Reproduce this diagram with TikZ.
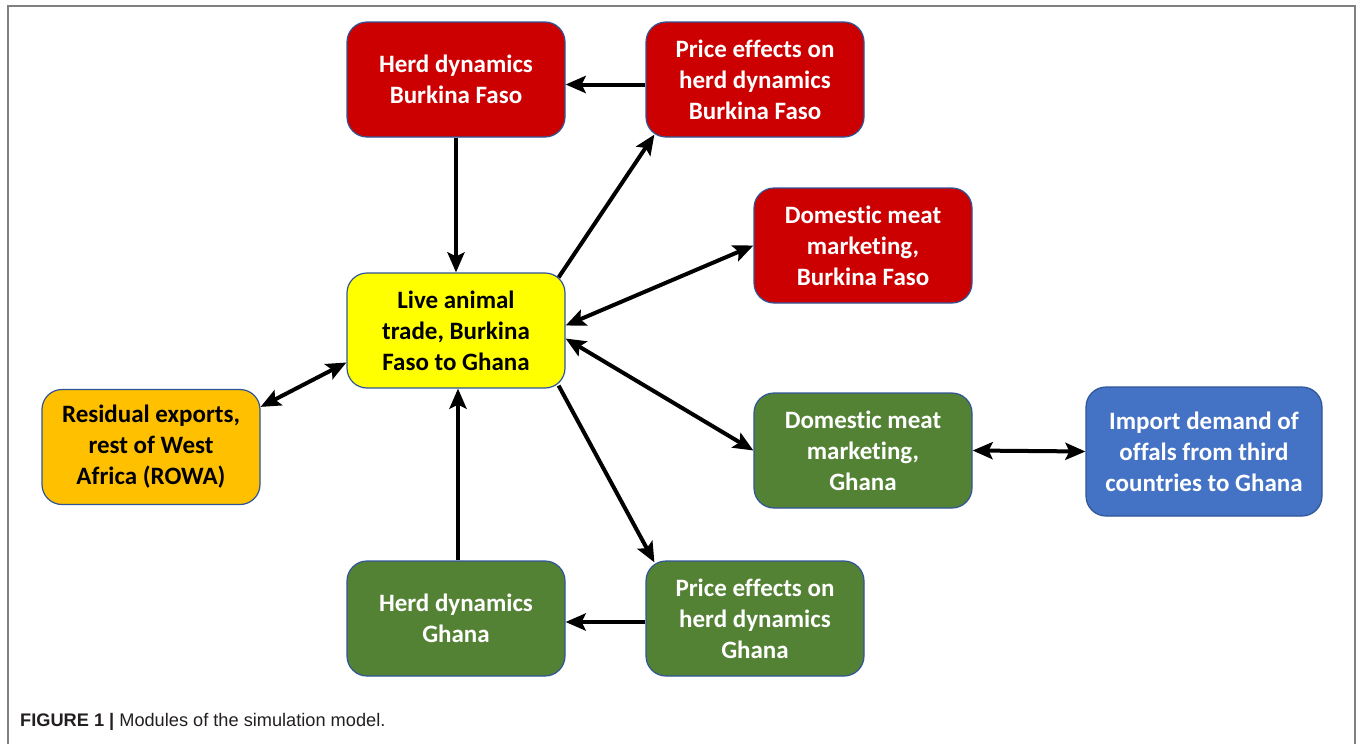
\documentclass[tikz,border=0pt]{standalone}
\usepackage{fontspec}
\setmainfont{Carlito}[Ligatures=NoCommon]
\newfontfamily\capfont{Liberation Sans}
\usetikzlibrary{arrows.meta}
\definecolor{bred}{HTML}{CC0000}
\definecolor{bgreen}{HTML}{548235}
\definecolor{byellow}{HTML}{FFFF00}
\definecolor{borange}{HTML}{FFC000}
\definecolor{bblue}{HTML}{4472C4}
\definecolor{bline}{HTML}{2F5597}
\definecolor{framegray}{HTML}{808080}
\definecolor{captext}{HTML}{231F20}
\tikzset{
  modbox/.style={draw=bline, line width=1.2pt, rounded corners=20pt,
    minimum width=218pt, minimum height=115pt, align=center, inner sep=4pt,
    font=\bfseries\fontsize{25}{31}\selectfont},
  redbox/.style={modbox, fill=bred, text=white},
  greenbox/.style={modbox, fill=bgreen, text=white},
  arr/.style={line width=4pt, -{Stealth[length=20pt,width=17pt,inset=4pt]}},
  darr/.style={line width=4pt, {Stealth[length=20pt,width=17pt,inset=4pt]}-{Stealth[length=20pt,width=17pt,inset=4pt]}},
  frameline/.style={draw=framegray, line width=2pt}
}
\begin{document}
\begin{tikzpicture}[x=1pt,y=-1pt]
\useasboundingbox (0,0) rectangle (1360,744);
\draw[frameline] (8,744) -- (8,6) -- (1355,6) -- (1355,744);

\node[redbox] (hbf) at (456,79.5) {Herd dynamics\\Burkina Faso};
\node[redbox] (pbf) at (755,79.5) {Price effects on\\herd dynamics\\Burkina Faso};
\node[redbox] (dbf) at (863,245.5) {Domestic meat\\marketing,\\Burkina Faso};
\node[modbox, fill=byellow, text=black] (live) at (456,330.5) {Live animal\\trade, Burkina\\Faso to Ghana};
\node[modbox, fill=borange, text=black] (res) at (151,447) {Residual exports,\\rest of West\\Africa (ROWA)};
\node[greenbox] (dgh) at (863,450.5) {Domestic meat\\marketing,\\Ghana};
\node[modbox, fill=bblue, text=white, minimum width=236pt, minimum height=129pt] (imp) at (1204,451.5) {Import demand of\\offals from third\\countries to Ghana};
\node[greenbox] (hgh) at (456,618.5) {Herd dynamics\\Ghana};
\node[greenbox] (pgh) at (755,618.5) {Price effects on\\herd dynamics\\Ghana};

\draw[arr] ([yshift=-5pt]pbf.west) -- ([yshift=-5pt]hbf.east);
\draw[arr] (hbf.south) -- (live.north);
\draw[arr] ([xshift=-7pt,yshift=-5pt]live.north east) -- ([xshift=9pt,yshift=3pt]pbf.south west);
\draw[darr] ([yshift=5pt]live.east) -- (dbf.west);
\draw[darr] ([yshift=-8pt]live.east) -- (dgh.west);
\draw[arr] ([xshift=-7pt,yshift=3pt]live.south east) -- ([xshift=9pt,yshift=-2pt]pgh.north west);
\draw[arr] ([yshift=-3.5pt]pgh.west) -- ([yshift=-3.5pt]hgh.east);
\draw[arr] ([xshift=2pt]hgh.north) -- ([xshift=2pt]live.south);
\draw[darr] ([yshift=-18pt]res.north east) -- ([yshift=-32pt]live.west);
\draw[darr] (dgh.east) -- (imp.west);

\node[anchor=base west, inner sep=0pt, text=captext, font=\capfont\fontsize{18.2}{21}\selectfont] (cap) at (20,726) {\textbf{FIGURE 1 |} Modules of the simulation model.};
\end{tikzpicture}
\end{document}
